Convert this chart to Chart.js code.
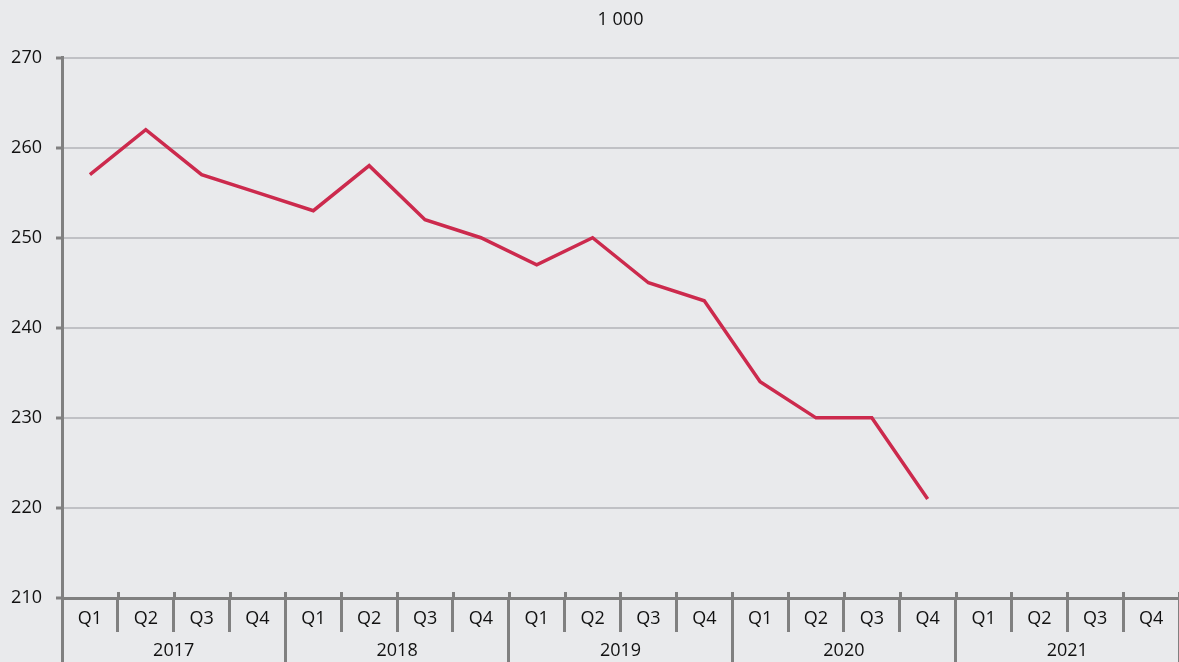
<!DOCTYPE html>
<html>
<head>
<meta charset="utf-8">
<script src="https://cdn.jsdelivr.net/npm/chart.js@4"></script>
<style>
html,body{margin:0;padding:0;background:#e9eaec;}
#wrap{width:1179px;height:662px;position:relative;}
</style>
</head>
<body>
<div id="wrap"><canvas id="c" width="1179" height="662"></canvas></div>
<script>
const quarters = ['Q1','Q2','Q3','Q4','Q1','Q2','Q3','Q4','Q1','Q2','Q3','Q4','Q1','Q2','Q3','Q4','Q1','Q2','Q3','Q4'];
const years = ['2017','2018','2019','2020','2021'];
const values = [257, 262, 257, 255, 253, 258, 252, 250, 247, 250, 245, 243, 234, 230, 230, 221, null, null, null, null];
const yTicks = [210, 220, 230, 240, 250, 260, 270];
const unitLabel = '1 000';

const FONT = "'Open Sans', 'Noto Sans', sans-serif";
const AXIS = '#808080';
const TXT = '#111111';

const bgPlugin = {
  id: 'bg',
  beforeDraw(chart) {
    const ctx = chart.ctx;
    ctx.save();
    ctx.fillStyle = '#e9eaec';
    ctx.fillRect(0, 0, chart.width, chart.height);
    ctx.restore();
  }
};

// small marks just above the category axis line, at category boundaries
const upTicks = {
  id: 'upTicks',
  afterDraw(chart) {
    const s = chart.scales.x;
    const ctx = chart.ctx;
    const n = s.ticks.length;
    const half = (s.getPixelForValue(1) - s.getPixelForValue(0)) / 2;
    ctx.save();
    ctx.strokeStyle = AXIS;
    ctx.lineWidth = 3;
    ctx.beginPath();
    for (let i = 1; i <= n; i++) {
      const px = Math.round(s.getPixelForValue(i - 1) + half) + 0.5;
      ctx.moveTo(px, s.top - 6);
      ctx.lineTo(px, s.top);
    }
    ctx.stroke();
    ctx.restore();
  }
};

new Chart(document.getElementById('c'), {
  type: 'line',
  data: {
    labels: quarters,
    datasets: [{
      data: values,
      borderColor: '#cc2a4d',
      borderWidth: 3.5,
      pointRadius: 0,
      tension: 0,
      spanGaps: false,
      xAxisID: 'x',
      yAxisID: 'y'
    }]
  },
  options: {
    responsive: false,
    animation: false,
    devicePixelRatio: 1,
    layout: { padding: { left: 0, right: 0, top: 0, bottom: 0 } },
    plugins: {
      legend: { display: false },
      tooltip: { enabled: false },
      title: {
        display: true,
        fullSize: false,
        text: unitLabel,
        color: TXT,
        font: { family: FONT, size: 18, weight: 'normal' },
        padding: { top: 9, bottom: 27 }
      }
    },
    scales: {
      y: {
        min: 210,
        max: 270,
        afterFit(s) { s.width = 62; },
        afterBuildTicks(s) { s.ticks = yTicks.map(v => ({ value: v })); },
        ticks: {
          color: TXT,
          font: { family: FONT, size: 18 },
          padding: 14
        },
        grid: {
          color: '#c0c1c5',
          lineWidth: 2,
          tickColor: AXIS,
          tickLength: 6,
          tickWidth: 3
        },
        border: { color: AXIS, width: 3 }
      },
      x: {
        type: 'category',
        position: 'bottom',
        offset: true,
        afterFit(s) { s.height = 34; },
        ticks: {
          color: TXT,
          font: { family: FONT, size: 18 },
          padding: -24,
          maxRotation: 0,
          autoSkip: false
        },
        grid: {
          display: true,
          drawOnChartArea: false,
          offset: true,
          color: AXIS,
          lineWidth: 3,
          tickLength: 34
        },
        border: { color: AXIS, width: 3 }
      },
      x2: {
        type: 'category',
        position: 'bottom',
        labels: years,
        offset: true,
        afterFit(s) { s.height = 30; },
        ticks: {
          color: TXT,
          font: { family: FONT, size: 18 },
          padding: -22,
          maxRotation: 0,
          autoSkip: false
        },
        grid: {
          display: true,
          drawOnChartArea: false,
          offset: true,
          color: AXIS,
          lineWidth: 3,
          tickLength: 30
        },
        border: { display: false }
      }
    }
  },
  plugins: [bgPlugin, upTicks]
});
</script>
</body>
</html>
